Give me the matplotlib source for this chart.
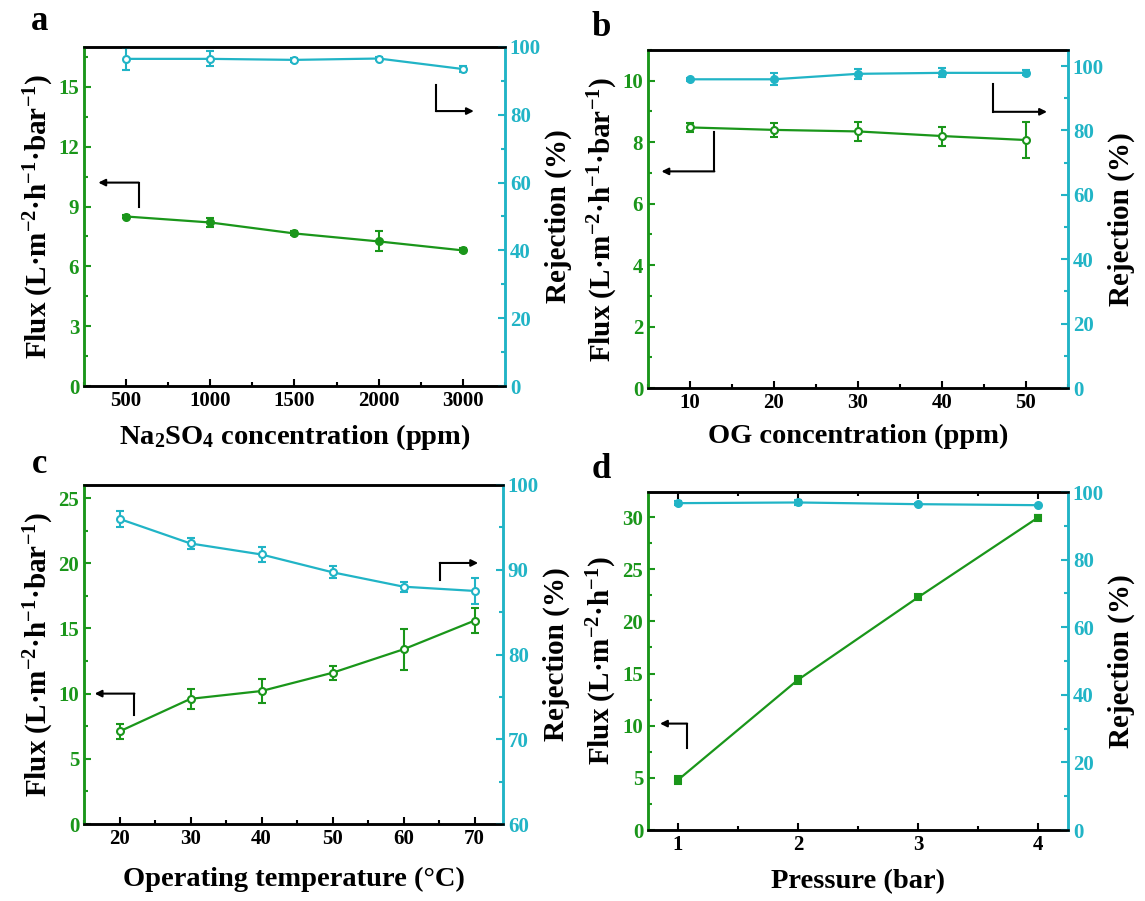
import numpy as np
import matplotlib
matplotlib.use("Agg")
from matplotlib import pyplot as plt
from matplotlib.ticker import MultipleLocator

plt.rcParams['font.family'] = ['Liberation Serif', 'DejaVu Serif']
plt.rcParams['font.weight'] = 'bold'
plt.rcParams['mathtext.fontset'] = 'custom'
plt.rcParams['mathtext.rm'] = 'Liberation Serif:bold'
plt.rcParams['mathtext.it'] = 'Liberation Serif:bold'
plt.rcParams['mathtext.bf'] = 'Liberation Serif:bold'

GREEN = '#1a961a'
CYAN = '#21b4c6'

# panel a - Na2SO4 concentration
a_labels = ['500', '1000', '1500', '2000', '3000']
a_flux = [8.5, 8.2, 7.65, 7.25, 6.8]
a_flux_err = [0.1, 0.23, 0.1, 0.5, 0.1]
a_rej = [96.5, 96.5, 96.2, 96.6, 93.5]
a_rej_err = [3.3, 2.2, 0.5, 0.5, 1.0]

# panel b - OG concentration
b_x = [10, 20, 30, 40, 50]
b_flux = [8.48, 8.4, 8.35, 8.2, 8.07]
b_flux_err = [0.16, 0.24, 0.3, 0.31, 0.6]
b_rej = [95.9, 95.9, 97.6, 97.9, 97.9]
b_rej_err = [0.5, 1.9, 1.6, 1.4, 0.8]

# panel c - operating temperature
c_x = [20, 30, 40, 50, 60, 70]
c_flux = [7.1, 9.6, 10.2, 11.6, 13.4, 15.6]
c_flux_err = [0.6, 0.76, 0.93, 0.54, 1.56, 0.93]
c_rej = [96.0, 93.1, 91.8, 89.7, 88.0, 87.5]
c_rej_err = [0.94, 0.65, 0.92, 0.73, 0.6, 1.5]

# panel d - pressure
d_x = [1, 2, 3, 4]
d_flux = [4.8, 14.4, 22.3, 29.95]
d_flux_err = [0.4, 0.4, 0.2, 0.2]
d_rej = [96.7, 96.9, 96.4, 96.1]
d_rej_err = [0.6, 0.6, 0.2, 0.2]

W, H = 1145, 901
fig = plt.figure(figsize=(W / 100, H / 100), dpi=100)

TICK_FS = 15
XLAB_FS = 20.5
YLAB_FS = 21


def px_axes(left, right, top, bottom):
    return fig.add_axes([left / W, 1 - bottom / H, (right - left) / W, (bottom - top) / H])


def style(ax, ax2):
    for a in (ax, ax2):
        for s in a.spines.values():
            s.set_linewidth(1.8)
        a.spines['left'].set_color(GREEN)
        a.spines['right'].set_color(CYAN)
        a.spines['top'].set_color('black')
        a.spines['bottom'].set_color('black')
    ax.tick_params(axis='y', which='both', direction='in', colors=GREEN, labelsize=TICK_FS, width=1.5)
    ax.tick_params(axis='x', which='both', direction='in', colors='black', labelsize=TICK_FS, width=1.5)
    ax2.tick_params(axis='y', which='both', direction='in', colors=CYAN, labelsize=TICK_FS, width=1.5)
    for a in (ax, ax2):
        a.tick_params(which='major', length=5)
        a.tick_params(which='minor', length=3)
    ax.set_facecolor('none')


def bent_arrow(ax, x0, y0, x1, y1, x2):
    # vertical stub from (x0,y0) to (x0,y1), then arrow to (x2,y1)
    ax.plot([x0, x0], [y0, y1], color='black', lw=1.5, zorder=5)
    ax.annotate('', xy=(x2, y1), xytext=(x0, y1),
                arrowprops=dict(arrowstyle='-|>', color='black', lw=1.5,
                                mutation_scale=10, shrinkA=0, shrinkB=0))


def panel(ax, x, flux, flux_err, rej, rej_err, flux_marker='o', flux_fill='white', rej_fill='white'):
    ax2 = ax.twinx()
    ax.errorbar(x, flux, yerr=flux_err, color=GREEN, marker=flux_marker, ms=5,
                mfc=flux_fill, mec=GREEN, mew=1.5, lw=1.6, capsize=3, elinewidth=1.5, capthick=1.5)
    ax2.errorbar(x, rej, yerr=rej_err, color=CYAN, marker='o', ms=5,
                 mfc=rej_fill, mec=CYAN, mew=1.5, lw=1.6, capsize=3, elinewidth=1.5, capthick=1.5)
    style(ax, ax2)
    ax2.set_ylabel('Rejection (%)', fontsize=YLAB_FS, fontweight='bold', labelpad=3)
    return ax2


flux_label = 'Flux (L·m$^{-2}$·h$^{-1}$·bar$^{-1}$)'

# ---- a
ax = px_axes(84, 505, 47, 386)
pos = np.arange(len(a_labels))
ax2 = panel(ax, pos, a_flux, a_flux_err, a_rej, a_rej_err, flux_fill=GREEN, rej_fill='white')
ax.set_xlim(-0.5, 4.5)
ax.set_xticks(pos, a_labels)
ax.xaxis.set_minor_locator(MultipleLocator(0.5))
ax.set_ylim(0, 17)
ax.yaxis.set_major_locator(MultipleLocator(3))
ax.yaxis.set_minor_locator(MultipleLocator(1.5))
ax2.set_ylim(0, 100)
ax2.yaxis.set_major_locator(MultipleLocator(20))
ax2.yaxis.set_minor_locator(MultipleLocator(10))
ax.set_xlabel('Na$_2$SO$_4$ concentration (ppm)', fontsize=XLAB_FS, fontweight='bold', labelpad=8)
ax.set_ylabel(flux_label, fontsize=YLAB_FS, fontweight='bold', labelpad=2)
bent_arrow(ax, 0.15, 9.0, 0.15, 10.2, -0.33)
bent_arrow(ax2, 3.68, 88.8, 3.68, 81.1, 4.13)

# ---- b
ax = px_axes(648, 1068, 50, 388)
ax2 = panel(ax, b_x, b_flux, b_flux_err, b_rej, b_rej_err, rej_fill=CYAN)
ax.set_xlim(5, 55)
ax.xaxis.set_major_locator(MultipleLocator(10))
ax.xaxis.set_minor_locator(MultipleLocator(5))
ax.set_ylim(0, 11)
ax.yaxis.set_major_locator(MultipleLocator(2))
ax.yaxis.set_minor_locator(MultipleLocator(1))
ax2.set_ylim(0, 105)
ax2.yaxis.set_major_locator(MultipleLocator(20))
ax2.yaxis.set_minor_locator(MultipleLocator(10))
ax.set_xlabel('OG concentration (ppm)', fontsize=XLAB_FS, fontweight='bold', labelpad=8)
ax.set_ylabel(flux_label, fontsize=YLAB_FS, fontweight='bold', labelpad=2)
bent_arrow(ax, 12.9, 8.34, 12.9, 7.05, 6.6)
bent_arrow(ax2, 46.1, 94.3, 46.1, 85.8, 52.5)

# ---- c
ax = px_axes(84, 503, 485, 824)
ax2 = panel(ax, c_x, c_flux, c_flux_err, c_rej, c_rej_err)
ax.set_xlim(15, 74)
ax.xaxis.set_major_locator(MultipleLocator(10))
ax.xaxis.set_minor_locator(MultipleLocator(5))
ax.set_ylim(0, 26)
ax.yaxis.set_major_locator(MultipleLocator(5))
ax.yaxis.set_minor_locator(MultipleLocator(2.5))
ax2.set_ylim(60, 100)
ax2.yaxis.set_major_locator(MultipleLocator(10))
ax2.yaxis.set_minor_locator(MultipleLocator(5))
ax.set_xlabel('Operating temperature (°C)', fontsize=XLAB_FS, fontweight='bold', labelpad=13)
ax.set_ylabel(flux_label, fontsize=YLAB_FS, fontweight='bold', labelpad=2)
bent_arrow(ax, 22.1, 8.35, 22.1, 10.0, 16.5)
bent_arrow(ax2, 65.1, 88.8, 65.1, 90.8, 70.5)

# ---- d
ax = px_axes(648, 1068, 492, 830)
ax2 = panel(ax, d_x, d_flux, d_flux_err, d_rej, d_rej_err,
            flux_marker='s', flux_fill=GREEN, rej_fill=CYAN)
ax.set_xlim(0.75, 4.25)
ax.xaxis.set_major_locator(MultipleLocator(1))
ax.xaxis.set_minor_locator(MultipleLocator(0.5))
ax.tick_params(axis='x', which='both', top=True)
ax.set_ylim(0, 32.4)
ax.yaxis.set_major_locator(MultipleLocator(5))
ax.yaxis.set_minor_locator(MultipleLocator(2.5))
ax2.set_ylim(0, 100)
ax2.yaxis.set_major_locator(MultipleLocator(20))
ax2.yaxis.set_minor_locator(MultipleLocator(10))
ax.set_xlabel('Pressure (bar)', fontsize=XLAB_FS, fontweight='bold', labelpad=10)
ax.set_ylabel('Flux (L·m$^{-2}$·h$^{-1}$)', fontsize=YLAB_FS, fontweight='bold', labelpad=2)
bent_arrow(ax, 1.076, 7.9, 1.076, 10.2, 0.85)

for letter, lx, ly in [('a', 40, 22), ('b', 601, 28), ('c', 40, 465), ('d', 601, 470)]:
    fig.text(lx / W, 1 - ly / H, letter, fontsize=25, fontweight='bold', ha='center', va='center')

fig.savefig('out.png', dpi=100)
